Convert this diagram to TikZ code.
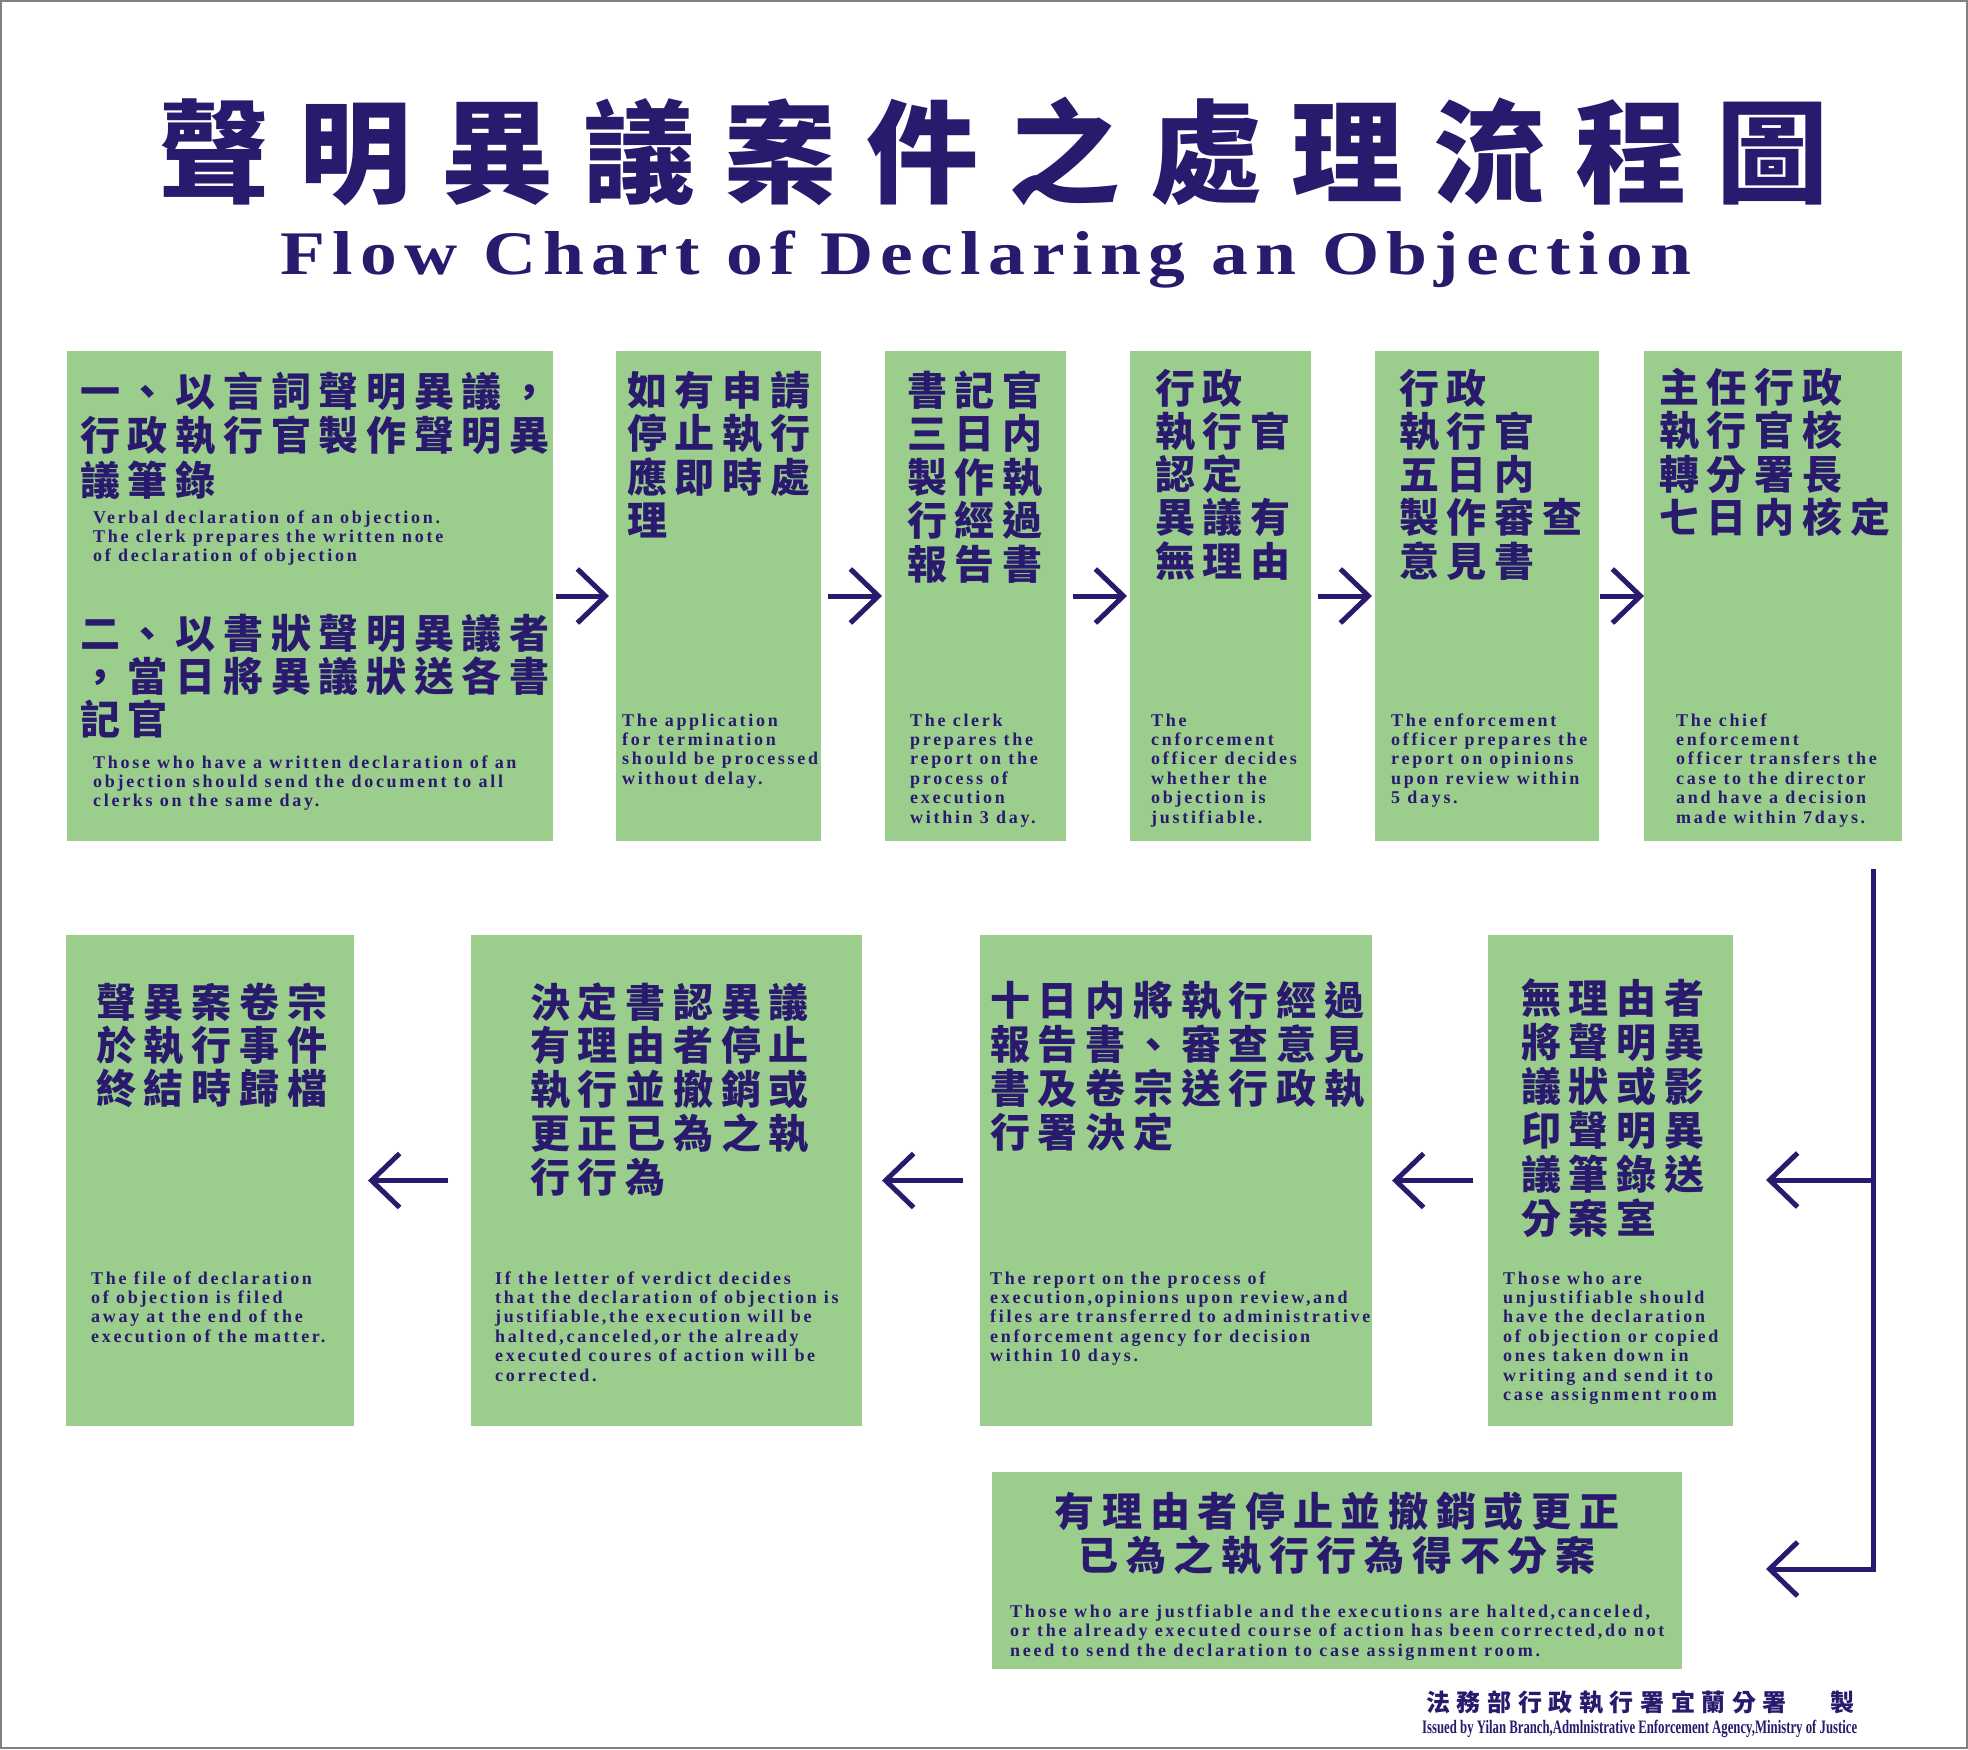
\documentclass[tikz,border=0pt]{standalone}
\usepackage{fontspec}
\usepackage{graphicx}
\usetikzlibrary{arrows.meta,calc}
\newfontfamily\cjk{Noto Sans CJK TC}
\newfontfamily\enfont{Liberation Serif}[LetterSpace=15]
\newfontfamily\entitlefont{Liberation Serif}[LetterSpace=10]
\newfontfamily\enfoot{Liberation Serif}
\definecolor{boxgreen}{RGB}{155,205,141}
\definecolor{ink}{RGB}{42,26,110}
\newdimen\cjkgap
\cjkgap=7.7pt
\def\cjkSp#1{#1\cjkSpNext}
\def\cjkSpNext#1{\ifx\relax#1\else\kern\cjkgap#1\expandafter\cjkSpNext\fi}
\newcommand\cjkrows[5]{%
  \foreach \rowtext [count=\i from 0] in {#5} {
    \node[cjktext, anchor=base west] (#1-\i) at (#2, {#3+\i*#4}) {\expandafter\cjkSp\rowtext\relax};
  }}
\newcommand\enrows[5]{%
  \foreach \rowtext [count=\i from 0] in {#5} {
    \node[entext, anchor=base west] (#1-\i) at (#2, {#3+\i*#4}) {\rowtext};
  }}
\begin{document}
\begin{tikzpicture}[x=1pt,y=-1pt,
  box/.style={fill=boxgreen, draw=none, inner sep=0pt, outer sep=0pt, anchor=north west},
  cjktext/.style={font=\cjk\bfseries\fontsize{40}{44}\selectfont, text=ink, inner sep=0pt},
  entext/.style={font=\enfont\bfseries\fontsize{18}{19}\selectfont, text=ink, inner sep=0pt},
  arr/.style={draw=ink, line width=5pt, -{Straight Barb[length=28pt,width=54pt]}},
  conn/.style={draw=ink, line width=5pt},
]
\fill[white] (0,0) rectangle (1968,1749);
\useasboundingbox (0,0) rectangle (1968,1749);
\draw[gray, line width=2pt] (1,1) rectangle (1967,1748);

% titles
\node[anchor=base west, inner sep=0pt, text=ink, font=\cjk\bfseries\fontsize{112}{112}\selectfont] (title) at (158,194) {\cjkgap=29.7pt\relax\cjkSp 聲明異議案件之處理流程圖\relax};
\node[anchor=base west, inner sep=0pt, text=ink] (subtitle) at (280,274) {\resizebox{1411pt}{\height}{\entitlefont\bfseries\fontsize{62}{62}\selectfont Flow Chart of Declaring an Objection}};

% top row boxes
\node[box, minimum width=486pt, minimum height=490pt] (b1) at (67,351) {};
\node[box, minimum width=205pt, minimum height=490pt] (b2) at (616,351) {};
\node[box, minimum width=181pt, minimum height=490pt] (b3) at (885,351) {};
\node[box, minimum width=181pt, minimum height=490pt] (b4) at (1130,351) {};
\node[box, minimum width=224pt, minimum height=490pt] (b5) at (1375,351) {};
\node[box, minimum width=258pt, minimum height=490pt] (b6) at (1644,351) {};

% bottom row boxes
\node[box, minimum width=288pt, minimum height=491pt] (B1) at (66,935) {};
\node[box, minimum width=391pt, minimum height=491pt] (B2) at (471,935) {};
\node[box, minimum width=392pt, minimum height=491pt] (B3) at (980,935) {};
\node[box, minimum width=245pt, minimum height=491pt] (B4) at (1488,935) {};
\node[box, minimum width=690pt, minimum height=197pt] (bb) at (992,1472) {};

% box 1
\cjkrows{t1a}{80}{406}{44.5}{一、以言詞聲明異議，,行政執行官製作聲明異,議筆錄}
\enrows{e1a}{93}{523}{19.4}{Verbal declaration of an objection.,The clerk prepares the written note,of declaration of objection}
\cjkrows{t1b}{80}{648}{43}{二、以書狀聲明異議者,，當日將異議狀送各書,記官}
\enrows{e1b}{93}{768}{19.4}{Those who have a written declaration of an,objection should send the document to all,clerks on the same day.}

% box 2
\cjkrows{t2}{627}{405}{43.5}{如有申請,停止執行,應即時處,理}
\enrows{e2}{622}{726}{19.4}{The application,for termination,should be processed,without delay.}

% box 3
\cjkrows{t3}{907}{405}{43.5}{書記官,三日内,製作執,行經過,報告書}
\enrows{e3}{910}{726}{19.4}{The clerk,prepares the,report on the,process of,execution,within 3 day.}

% box 4
\cjkrows{t4}{1155}{403}{43.3}{行政,執行官,認定,異議有,無理由}
\enrows{e4}{1151}{726}{19.4}{The,cnforcement,officer decides,whether the,objection is,justifiable.}

% box 5
\cjkrows{t5}{1399}{403}{43.3}{行政,執行官,五日内,製作審查,意見書}
\enrows{e5}{1391}{726}{19.4}{The enforcement,officer prepares the,report on opinions,upon review within,5 days.}

% box 6
\cjkrows{t6}{1659}{402}{43.5}{主任行政,執行官核,轉分署長,七日内核定}
\enrows{e6}{1676}{726}{19.4}{The chief,enforcement,officer transfers the,case to the director,and have a decision,made within 7days.}

% bottom box 1
\cjkrows{T1}{96}{1017}{43}{聲異案卷宗,於執行事件,終結時歸檔}
\enrows{E1}{91}{1284}{19.4}{The file of declaration,of objection is filed,away at the end of the,execution of the matter.}

% bottom box 2
\cjkrows{T2}{530}{1017}{43.8}{決定書認異議,有理由者停止,執行並撤銷或,更正已為之執,行行為}
\enrows{E2}{495}{1284}{19.4}{If the letter of verdict decides,that the declaration of objection is,{justifiable,the execution will be},{halted,canceled,or the already},executed coures of action will be,corrected.}

% bottom box 3
\cjkrows{T3}{990}{1015}{44}{十日内將執行經過,報告書、審查意見,書及卷宗送行政執,行署決定}
\enrows{E3}{990}{1284}{19.4}{The report on the process of,{execution,opinions upon review,and},files are transferred to administrative,enforcement agency for decision,within 10 days.}

% bottom box 4
\cjkrows{T4}{1521}{1013}{44}{無理由者,將聲明異,議狀或影,印聲明異,議筆錄送,分案室}
\enrows{E4}{1503}{1284}{19.4}{Those who are,unjustifiable should,have the declaration,of objection or copied,ones taken down in,writing and send it to,case assignment room}

% wide box
\node[cjktext, anchor=base] (tb-0) at (1337,1526) {\cjkSp 有理由者停止並撤銷或更正\relax};
\node[cjktext, anchor=base] (tb-1) at (1337,1570) {\cjkSp 已為之執行行為得不分案\relax};
\enrows{eb}{1010}{1617}{19.5}{{Those who are justfiable and the executions are halted,canceled,},{or the already executed course of action has been corrected,do not},need to send the declaration to case assignment room.}

% footer
\node[anchor=base west, inner sep=0pt, text=ink, font=\cjk\bfseries\fontsize{24}{24}\selectfont] (foot) at (1426,1711) {\cjkgap=6.6pt\relax\cjkSp 法務部行政執行署宜蘭分署\relax\kern44pt 製};
\node[anchor=base west, inner sep=0pt, text=ink] (footen) at (1422,1733) {\resizebox{435pt}{\height}{\enfoot\bfseries\fontsize{19}{19}\selectfont Issued by Yilan Branch,Admlnistrative Enforcement Agency,Ministry of Justice}};

% top arrows
\draw[arr, shorten <=3pt, shorten >=7pt] (b1) -- (b2);
\draw[arr, shorten <=7pt, shorten >=3pt] (b2) -- (b3);
\draw[arr, shorten <=7pt, shorten >=3pt] (b3) -- (b4);
\draw[arr, shorten <=7pt, shorten >=3pt] (b4) -- (b5);
\draw[arr, shorten <=1pt, shorten >=0pt] (b5) -- (b6);

% connector
\coordinate (c0) at (1873,869);
\coordinate (j1) at (1873,1180);
\coordinate (j2) at (1873,1569);
\draw[arr, shorten >=84pt] (c0) -- (j2) -- (j2 -| bb.east);
\draw[arr, shorten >=33pt] (j1) -- (j1 -| B4.east);

% bottom arrows
\draw[arr, shorten <=15pt, shorten >=20pt] (B4) -- (B3);
\draw[arr, shorten <=17pt, shorten >=20pt] (B3) -- (B2);
\draw[arr, shorten <=23pt, shorten >=14pt] (B2) -- (B1);
\end{tikzpicture}
\end{document}
